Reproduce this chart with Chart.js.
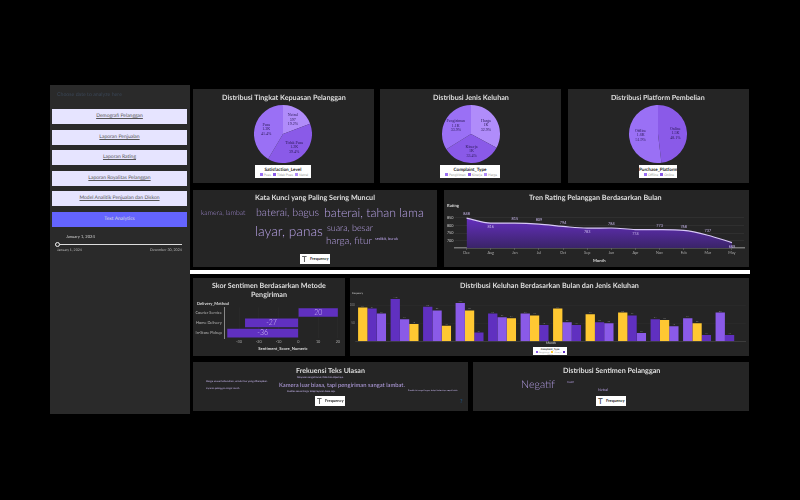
<!DOCTYPE html>
<html>
<head>
<meta charset="utf-8">
<title>Dashboard Analisis Pelanggan</title>
<script src="https://cdn.jsdelivr.net/npm/chart.js@4"></script>
<style>
    html, body { margin: 0; padding: 0; width: 800px; height: 500px; background: #000; overflow: hidden; font-family: Lato, sans-serif; text-rendering: geometricPrecision; }
    body { filter: blur(0.3px); }
    .box { position: absolute; background: #252525; }
    .txt { position: absolute; white-space: nowrap; line-height: 1; will-change: transform; }
    .btn { position: absolute; left: 52px; width: 135px; height: 15px; background: #e6e4ff; color: #555; font-size: 5px; line-height: 15px; text-align: center; text-decoration: underline; }
    .legend { position: absolute; background: #fff; color: #222; text-align: center; font-size: 3.4px; line-height: 1.2; padding-top: 1px; box-sizing: border-box; }
    .legend b { display: block; font-size: 4.6px; margin-top: 1px; }
    .legend i { display: inline-block; width: 3px; height: 3px; margin: 0 1px 0 2px; vertical-align: -0.5px; }
    .legend span { color: #999; }
    .freq { position: absolute; width: 30px; height: 10px; background: #fff; color: #222; font-size: 4px; font-weight: 700; line-height: 10px; box-sizing: border-box; padding-left: 10px; }
    .freq em { position: absolute; left: 2px; top: 0; font-size: 8px; font-style: normal; font-weight: 400; color: #333; line-height: 10px; }
    canvas { position: absolute; }
</style>
</head>
<body>
<div class="box" style="left:50px;top:85px;width:140px;height:329px;background:#2a2a2a"></div>
<div class="box" style="left:190px;top:270px;width:560px;height:4px;background:#fff"></div>
<div class="box" style="left:193px;top:89px;width:181px;height:94px"></div>
<div class="box" style="left:380px;top:89px;width:181px;height:94px"></div>
<div class="box" style="left:568px;top:89px;width:181px;height:94px"></div>
<div class="box" style="left:193px;top:190px;width:244px;height:77px"></div>
<div class="box" style="left:444px;top:190px;width:305px;height:77px"></div>
<div class="box" style="left:193px;top:278px;width:152px;height:78px"></div>
<div class="box" style="left:350px;top:278px;width:399px;height:78px"></div>
<div class="box" style="left:193px;top:362px;width:275px;height:49px"></div>
<div class="box" style="left:473px;top:362px;width:276px;height:49px"></div>

<div class="box" style="left:55px;top:244px;width:127px;height:1px;background:#ddd"></div>
<div class="box" style="left:55px;top:242px;width:3px;height:3px;background:#333;border:1px solid #eee;border-radius:50%"></div>

<canvas id="pieKepuasan" width="58" height="58" style="left:254px;top:105px"></canvas>
<canvas id="pieKeluhan" width="58" height="58" style="left:442px;top:105px"></canvas>
<canvas id="piePlatform" width="58" height="58" style="left:629px;top:105px"></canvas>
<canvas id="lineRating" width="305" height="62" style="left:444px;top:205px"></canvas>
<canvas id="barSentimen" width="152" height="54" style="left:193px;top:302px"></canvas>
<canvas id="barKeluhan" width="399" height="52" style="left:350px;top:292px"></canvas>

<script>
const buttonLabels = ['Demografi Pelanggan', 'Laporan Penjualan', 'Laporan Rating', 'Laporan Royalitas Pelanggan', 'Model Analitik Penjualan dan Diskon', 'Text Analytics'];
const buttonTops = [109, 130, 150, 171, 191, 212];

const kepuasanLabels = ['Netral', 'Tidak Puas', 'Puas'];
const kepuasanValues = [597, 1225, 1288];
const kepuasanShort = ['597', '1.2K', '1.3K'];
const kepuasanPercent = ['19.2%', '39.4%', '41.4%'];

const keluhanLabels = ['Harga', 'Kinerja', 'Pengiriman'];
const keluhanValues = [1023, 1038, 1054];
const keluhanShort = ['1K', '1K', '1.1K'];
const keluhanPercent = ['32.9%', '33.4%', '33.9%'];

const platformLabels = ['Online', 'Offline'];
const platformValues = [1496, 1614];
const platformShort = ['1.5K', '1.6K'];
const platformPercent = ['48.1%', '51.9%'];

const ratingMonths = ['Dec', 'Aug', 'Jan', 'Jul', 'Oct', 'Sep', 'Jun', 'Apr', 'Nov', 'Feb', 'Mar', 'May'];
const ratingValues = [848, 816, 815, 809, 794, 783, 784, 774, 773, 768, 737, 689];
const ratingTicks = [700, 750, 800, 850];
const ratingLabelBelow = [false, true, false, false, false, true, false, true, false, false, false, true];

const deliveryMethods = ['Courier Service', 'Home Delivery', 'In-Store Pickup'];
const sentimentScores = [20, -27, -36];
const sentimentTicks = [-30, -20, -10, 0, 10, 20];

const keluhanMonths = ['M1', 'M2', 'M3', 'M4', 'M5', 'M6', 'M7', 'M8', 'M9', 'M10', 'M11', 'M12'];
const pengirimanCounts = [77, 61, 86, 107, 67, 77, 53, 50, 23, 42, 64, 80];
const kinerjaCounts = [94, 48, 43, 86, 64, 72, 91, 75, 80, 59, 50, 0];
const hargaCounts = [91, 118, 96, 24, 77, 45, 45, 53, 72, 61, 17, 17];
const frequencyTicks = [50, 100];

const keywordWords = ['kamera, lambat', 'baterai, bagus', 'baterai, tahan lama', 'layar, panas', 'suara, besar', 'harga, fitur', 'sedikit, buruk'];
const reviewTexts = ['Harga sesuai kebutuhan, untuk fitur yang diharapkan.', 'Layanan pelanggan sangat ramah.', 'Pelayanan sangat buruk, tidak bisa dipercaya.', 'Kamera luar biasa, tapi pengiriman sangat lambat.', 'Kualitas sesuai harga, tetapi layanan biasa saja.', 'Produk ini sangat bagus, tetapi baterainya cepat habis.'];
const sentimentWords = ['Negatif', 'Positif', 'Netral'];

// warna
const purpleLight = '#b08cfa';
const purpleMid = '#8a5ae8';
const purpleDark = '#6030c0';
const yellow = '#ffc832';
const wordColor = '#b8a2e6';

Chart.defaults.animation = false;
Chart.defaults.font.family = 'Lato, sans-serif';
Chart.defaults.responsive = false;
Chart.defaults.plugins.legend.display = false;
Chart.defaults.plugins.tooltip.enabled = false;

// teks diletakkan sesuai lebar yang dibaca dari gambar (kiri, kanan, tengah-y)
function addText(text, left, right, midY, color, weight) {
    const el = document.createElement('div');
    el.className = 'txt';
    el.innerText = text;
    el.style.fontSize = '10px';
    el.style.color = color;
    el.style.fontWeight = weight || 400;
    document.body.appendChild(el);
    const size = 10 * (right - left) / el.getBoundingClientRect().width;
    el.style.fontSize = size + 'px';
    el.style.left = left + 'px';
    el.style.top = (midY - el.getBoundingClientRect().height / 2) + 'px';
}

function addLegend(title, labels, colors, left, width) {
    const el = document.createElement('div');
    el.className = 'legend';
    el.style.cssText = `left:${left}px;top:165px;width:${width}px;height:13px`;
    const items = labels.map((l, i) => `<i style="background:${colors[i]}"></i><span>${l}</span>`).join('');
    el.innerHTML = `<b>${title}</b>${items}`;
    document.body.appendChild(el);
}

function addFrequencyBox(left, top) {
    const el = document.createElement('div');
    el.className = 'freq';
    el.style.left = left + 'px';
    el.style.top = top + 'px';
    el.innerHTML = '<em>T</em>Frequency';
    document.body.appendChild(el);
}

function renderPie(id, labels, values, shortValues, percents, colors) {
    new Chart(document.getElementById(id), {
        type: 'pie',
        data: { labels: labels, datasets: [{ data: values, backgroundColor: colors, borderWidth: 0 }] },
        options: { layout: { padding: 0 } },
        plugins: [{
            id: 'sliceLabels',
            afterDatasetsDraw(chart) {
                const ctx = chart.ctx;
                ctx.save();
                ctx.font = '4px "Liberation Serif", serif';
                ctx.fillStyle = '#2a1a55';
                ctx.textAlign = 'center';
                ctx.textBaseline = 'middle';
                chart.getDatasetMeta(0).data.forEach((arc, i) => {
                    const mid = (arc.startAngle + arc.endAngle) / 2;
                    const x = arc.x + Math.cos(mid) * arc.outerRadius * 0.6;
                    const y = arc.y + Math.sin(mid) * arc.outerRadius * 0.6;
                    ctx.fillText(labels[i], x, y - 4.5);
                    ctx.fillText(shortValues[i], x, y);
                    ctx.fillText(percents[i], x, y + 4.5);
                });
                ctx.restore();
            }
        }]
    });
}

function renderRating() {
    const canvas = document.getElementById('lineRating');
    const gradient = canvas.getContext('2d').createLinearGradient(0, 10, 0, 43);
    gradient.addColorStop(0, '#6a30c8');
    gradient.addColorStop(1, '#3a2468');
    new Chart(canvas, {
        type: 'line',
        data: {
            labels: ratingMonths,
            datasets: [{
                data: ratingValues, borderColor: '#d8c8f8', borderWidth: 1.2, pointRadius: 0,
                cubicInterpolationMode: 'monotone', fill: 'origin', backgroundColor: gradient
            }]
        },
        options: {
            layout: { padding: { right: 5 } },
            scales: {
                x: {
                    offset: true, grid: { drawOnChartArea: false, tickLength: 1.5, color: '#777' }, border: { color: '#777', width: 1.5 },
                    ticks: { color: '#aaa', font: { size: 3.8 }, padding: 1, maxRotation: 0, autoSkip: false },
                    title: { display: true, text: 'Month', color: '#ddd', font: { size: 4.2, weight: 'bold' }, padding: { top: 0, bottom: 4 } },
                    afterFit: (s) => { s.height = 19; }
                },
                y: {
                    min: 654, max: 912, grid: { color: '#3a3a3a', lineWidth: 0.5, drawTicks: false }, border: { display: false },
                    ticks: { color: '#ccc', font: { size: 3.8 }, padding: 1 },
                    afterBuildTicks: (s) => { s.ticks = ratingTicks.map((v) => ({ value: v })); },
                    afterFit: (s) => { s.width = 10.5; }
                }
            }
        },
        plugins: [{
            id: 'ratingLabels',
            afterDatasetsDraw(chart) {
                const ctx = chart.ctx;
                ctx.save();
                ctx.font = '3.8px Lato, sans-serif';
                ctx.fillStyle = '#c9b8ee';
                ctx.textAlign = 'center';
                ctx.textBaseline = 'middle';
                chart.getDatasetMeta(0).data.forEach((pt, i) => {
                    ctx.fillText(ratingValues[i], pt.x, pt.y + (ratingLabelBelow[i] ? 4 : -4));
                });
                ctx.restore();
            }
        }]
    });
}

function renderSentimen() {
    new Chart(document.getElementById('barSentimen'), {
        type: 'bar',
        data: {
            labels: deliveryMethods,
            datasets: [{ data: sentimentScores, backgroundColor: purpleDark, barPercentage: 0.84, categoryPercentage: 1 }]
        },
        options: {
            indexAxis: 'y',
            layout: { padding: { top: 4.3, right: 4 } },
            scales: {
                x: {
                    min: -37.3, max: 21.6, grid: { color: '#2e2e2e', lineWidth: 0.5, drawTicks: false }, border: { display: false },
                    ticks: { color: '#aaa', font: { size: 3.8 }, padding: 1, autoSkip: false, maxRotation: 0 },
                    afterBuildTicks: (s) => { s.ticks = sentimentTicks.map((v) => ({ value: v })); },
                    title: { display: true, text: 'Sentiment_Score_Numeric', color: '#ddd', font: { size: 4.2, weight: 'bold' }, padding: { top: 0, bottom: 5 } },
                    afterFit: (s) => { s.height = 17.7; }
                },
                y: {
                    grid: { display: false, drawTicks: false }, border: { color: '#888', width: 1 },
                    ticks: { color: '#bbb', font: { size: 3.9 }, padding: 3 },
                    afterFit: (s) => { s.width = 31.7; }
                }
            }
        },
        plugins: [{
            id: 'scoreLabels',
            afterDatasetsDraw(chart) {
                const ctx = chart.ctx;
                ctx.save();
                ctx.font = '300 7px Lato, sans-serif';
                ctx.fillStyle = '#d8c8f8';
                ctx.textAlign = 'center';
                ctx.textBaseline = 'middle';
                chart.getDatasetMeta(0).data.forEach((bar, i) => {
                    ctx.fillText(sentimentScores[i], (bar.x + bar.base) / 2, bar.y);
                });
                ctx.restore();
            }
        }]
    });
}

function renderKeluhan() {
    // dalam tiap bulan batang diurutkan dari nilai terbesar, jadi warna ikut per titik
    const series = [
        { values: pengirimanCounts, color: purpleMid },
        { values: kinerjaCounts, color: yellow },
        { values: hargaCounts, color: purpleDark }
    ];
    const ranked = keluhanMonths.map((m, i) => series.map((s) => ({ v: s.values[i], c: s.color })).sort((a, b) => b.v - a.v));
    const datasets = [0, 1, 2].map((r) => ({
        data: ranked.map((g) => g[r].v),
        backgroundColor: ranked.map((g) => g[r].c),
        barPercentage: 1, categoryPercentage: 0.86
    }));
    new Chart(document.getElementById('barKeluhan'), {
        type: 'bar',
        data: { labels: keluhanMonths, datasets: datasets },
        options: {
            layout: { padding: { top: 3, right: 3.2 } },
            scales: {
                x: {
                    grid: { display: false, drawTicks: false }, border: { color: '#555', width: 0.5 }, ticks: { display: false },
                    afterFit: (s) => { s.height = 1.3; }
                },
                y: {
                    min: 0, max: 129, grid: { color: '#2e2e2e', lineWidth: 0.5, drawTicks: false }, border: { display: false },
                    ticks: { color: '#888', font: { size: 3 }, padding: 1 },
                    afterBuildTicks: (s) => { s.ticks = frequencyTicks.map((v) => ({ value: v })); },
                    afterFit: (s) => { s.width = 5.8; }
                }
            }
        },
        plugins: [{
            id: 'barValues',
            afterDatasetsDraw(chart) {
                const ctx = chart.ctx;
                ctx.save();
                ctx.font = '2.4px Lato, sans-serif';
                ctx.fillStyle = '#777';
                ctx.textAlign = 'center';
                chart.data.datasets.forEach((ds, d) => {
                    chart.getDatasetMeta(d).data.forEach((bar, i) => {
                        if (ds.data[i] > 0) { ctx.fillText(ds.data[i], bar.x, bar.y - 1); }
                    });
                });
                ctx.restore();
            }
        }]
    });
}

function renderSidebar() {
    buttonLabels.forEach((label, i) => {
        const el = document.createElement('div');
        el.className = 'btn';
        el.innerText = label;
        el.style.top = buttonTops[i] + 'px';
        if (i === buttonLabels.length - 1) {
            el.style.background = '#6464ff';
            el.style.color = '#ddd';
            el.style.textDecoration = 'none';
        }
        document.body.appendChild(el);
    });
    addText('Choose date to analyze here', 57, 122, 96, '#3a4656');
    addText('January 1, 2024', 66, 95, 237, '#ccc');
    addText('January 1, 2024', 57, 82, 250, '#bbb');
    addText('December 30, 2024', 150, 182, 250, '#bbb');
}

function renderTexts() {
    const title = '#dedede';
    addText('Distribusi Tingkat Kepuasan Pelanggan', 221.5, 345.5, 97.5, title, 700);
    addText('Distribusi Jenis Keluhan', 433, 509, 97.5, title, 700);
    addText('Distribusi Platform Pembelian', 611, 705, 97.5, title, 700);
    addText('Kata Kunci yang Paling Sering Muncul', 255, 375, 198, title, 700);
    addText('Tren Rating Pelanggan Berdasarkan Bulan', 529, 662, 198, title, 700);
    addText('Skor Sentimen Berdasarkan Metode', 212, 326, 286, title, 700);
    addText('Pengiriman', 251, 287, 295, title, 700);
    addText('Distribusi Keluhan Berdasarkan Bulan dan Jenis Keluhan', 460, 639, 286, title, 700);
    addText('Frekuensi Teks Ulasan', 296, 365, 370.5, title, 700);
    addText('Distribusi Sentimen Pelanggan', 562.5, 660, 370.5, title, 700);

    addText('Rating', 447, 459, 206.5, '#ddd', 700);
    addText('Delivery_Method', 197, 229, 304, '#ddd', 700);
    addText('Frequency', 352, 363, 294, '#bbb', 700);
    addText('Month', 546, 556, 344, '#bbb', 700);

    addText(keywordWords[0], 200.5, 245, 213.5, '#a48cd6', 300);
    addText(keywordWords[1], 255.5, 318.5, 213, wordColor, 300);
    addText(keywordWords[2], 323.5, 423.5, 213.5, wordColor, 300);
    addText(keywordWords[3], 255, 323, 232, wordColor, 300);
    addText(keywordWords[4], 327, 373, 227.5, wordColor, 300);
    addText(keywordWords[5], 325.5, 371.5, 242, wordColor, 300);
    addText(keywordWords[6], 375, 398, 238.5, wordColor);

    addText(reviewTexts[0], 206, 268, 381.7, '#c9b8f0');
    addText(reviewTexts[1], 206, 240, 389, '#c9b8f0');
    addText(reviewTexts[2], 296.5, 343, 378.3, '#c9b8f0');
    addText(reviewTexts[3], 279, 405, 386.3, '#b7a2e6');
    addText(reviewTexts[4], 286.5, 335, 392, '#c9b8f0');
    addText(reviewTexts[5], 408, 458, 391.3, '#c9b8f0');
    addText('?', 459.5, 462, 403, '#1d4e78', 700);

    addText(sentimentWords[0], 520.5, 554.5, 385.7, '#b09ae0', 300);
    addText(sentimentWords[1], 567, 574, 383, wordColor);
    addText(sentimentWords[2], 598, 608, 389.7, wordColor);

    addFrequencyBox(300, 254);
    addFrequencyBox(315, 396);
    addFrequencyBox(596, 396);
}

window.addEventListener('DOMContentLoaded', () => {
    renderSidebar();
    renderTexts();
    const kepuasanColors = [purpleLight, purpleMid, '#9a70f5'];
    const keluhanColors = [purpleLight, purpleMid, '#9a70f5'];
    const platformColors = [purpleMid, '#9a70f5'];
    renderPie('pieKepuasan', kepuasanLabels, kepuasanValues, kepuasanShort, kepuasanPercent, kepuasanColors);
    renderPie('pieKeluhan', keluhanLabels, keluhanValues, keluhanShort, keluhanPercent, keluhanColors);
    renderPie('piePlatform', platformLabels, platformValues, platformShort, platformPercent, platformColors);
    addLegend('Satisfaction_Level', ['Puas', 'Tidak Puas', 'Netral'], ['#9a70f5', purpleMid, purpleLight], 255, 56);
    addLegend('Complaint_Type', ['Pengiriman', 'Kinerja', 'Harga'], ['#9a70f5', purpleMid, purpleLight], 440, 60);
    addLegend('Purchase_Platform', ['Offline', 'Online'], ['#9a70f5', purpleMid], 639, 38);
    renderRating();
    renderSentimen();
    renderKeluhan();
    // legenda kecil di bawah grafik keluhan
    const small = document.createElement('div');
    small.className = 'legend';
    small.style.cssText = 'left:533px;top:347px;width:34px;height:8px;font-size:2.2px';
    small.innerHTML = `<b style="font-size:2.6px;margin:0">Complaint_Type</b><i style="background:${purpleMid};width:2px;height:2px"></i><span>Pengiriman</span><i style="background:${yellow};width:2px;height:2px"></i><span>Kinerja</span><i style="background:${purpleDark};width:2px;height:2px"></i><span>Harga</span>`;
    document.body.appendChild(small);
});
</script>
</body>
</html>
